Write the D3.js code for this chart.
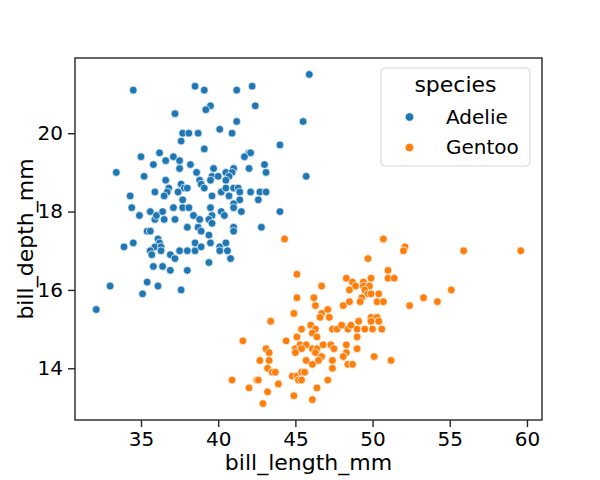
<!DOCTYPE html>
<html>
<head>
<meta charset="utf-8">
<script src="https://cdn.jsdelivr.net/npm/d3@7"></script>
<style>
  body { margin: 0; background: #fff; }
  text { font-family: "DejaVu Sans", sans-serif; fill: #000; }
  .axis path, .axis line { stroke: #262626; stroke-width: 1.4; }
  .axis text { font-size: 20px; fill: #000; }
</style>
</head>
<body>
<div id="chart"></div>
<script>
// penguins: bill length vs bill depth
const species = ["Adelie", "Gentoo"];
const colors = ["#1f77b4", "#ff7f0e"];

const adelieLength = [34.5,38.5,39.1,39.5,39.2,37.2,40.1,37.7,38.1,38.7,37.6,39.1,36.2,35.0,36.6,37.1,37.5,35.8,38.2,37.5,
  39.7,33.4,38.6,40.5,35.2,39.6,40.0,36.6,38.8,45.9,41.2,42.2,42.4,41.2,45.5,40.9,44.0,42.0,42.1,41.7,
  43.0,42.0,43.1,41.0,40.9,40.7,45.7,37.6,37.8,38.0,36.8,36.7,38.9,39.1,40.5,39.5,34.3,35.9,36.5,37.4,
  37.7,39.6,40.2,40.5,34.4,34.9,35.6,35.9,36.0,36.4,36.5,37.1,37.7,38.1,37.2,38.4,38.8,39.5,39.6,39.4,
  39.6,40.2,40.4,38.0,38.7,38.9,39.4,35.4,35.6,34.5,33.9,36.1,36.2,35.9,36.3,35.6,35.7,36.3,36.9,37.2,
  37.5,38.0,38.5,38.5,38.9,39.5,40.1,40.1,40.6,40.5,39.4,35.8,36.4,36.9,38.0,35.4,36.1,35.1,33.0,37.6,
  32.1,41.0,41.3,40.7,41.4,41.4,42.1,42.7,43.1,42.6,41.0,41.0,41.5,44.0,41.0,41.0,42.8,40.8];
const adelieDepth = [21.1,21.2,21.1,20.7,20.6,20.5,20.1,20.0,20.0,20.0,19.8,19.6,19.5,19.4,19.3,19.4,19.3,19.2,19.2,19.1,
  19.1,19.0,19.0,19.0,18.9,18.9,18.9,18.8,18.8,21.5,21.1,21.2,20.7,20.3,20.3,20.0,19.7,19.5,19.5,19.4,
  19.2,19.1,19.0,19.1,19.0,18.9,18.9,18.7,18.6,18.6,18.6,18.5,18.7,18.6,18.8,18.8,18.4,18.5,18.4,18.5,
  18.3,18.4,18.5,18.6,18.1,17.9,18.0,17.8,17.9,18.0,17.8,18.1,18.1,18.1,17.8,17.9,17.8,18.1,17.9,17.8,
  17.7,18.0,17.9,17.6,17.6,17.5,17.4,17.5,17.5,17.2,17.1,17.3,17.2,17.1,17.1,17.0,16.9,17.0,16.9,16.8,
  17.0,17.0,17.0,17.2,17.1,17.2,17.1,17.0,17.0,17.2,16.7,16.6,16.6,16.5,16.5,16.2,16.1,15.9,16.1,16.0,
  15.5,18.6,18.6,18.4,18.5,18.3,18.5,18.5,18.5,18.3,18.2,18.1,18.0,18.0,17.6,17.5,17.6,16.8];

const gentooLength = [44.3,45.1,46.7,48.3,48.5,45.1,46.2,46.3,46.7,46.6,47.1,47.2,48.1,48.5,44.9,43.4,45.4,46.0,46.3,46.1,
  46.4,47.4,47.7,48.4,45.1,44.4,41.6,43.1,43.3,43.3,42.7,45.0,45.3,45.7,45.4,45.0,46.1,46.4,46.3,46.8,
  47.3,47.5,48.3,48.3,48.1,46.7,46.5,45.7,46.1,47.4,47.4,48.4,43.2,43.5,43.7,44.8,45.1,45.4,45.6,45.2,
  45.4,47.1,40.9,42.5,42.6,43.9,42.0,43.2,46.4,44.9,46.1,42.9,50.7,52.1,52.0,55.9,59.6,49.7,51.0,51.0,
  51.4,48.7,48.9,49.4,49.4,49.8,49.9,49.5,49.7,49.9,50.4,49.3,49.2,50.3,50.7,52.4,53.3,54.2,55.1,49.1,
  48.6,48.0,49.0,49.5,50.0,50.6,49.9,50.3,49.9,50.4,49.0,49.0,50.1,51.2,48.7];
const gentooDepth = [17.3,16.4,16.1,16.3,16.0,15.8,15.8,15.6,15.4,15.3,15.5,15.3,15.6,15.7,15.4,15.2,15.0,15.1,15.0,14.9,
  14.8,15.0,15.0,15.0,14.8,14.7,14.7,14.5,14.4,14.2,14.2,14.5,14.6,14.6,14.5,14.4,14.5,14.5,14.4,14.6,
  14.6,14.5,14.6,14.4,14.3,14.3,14.2,14.2,14.1,14.2,14.0,14.1,14.0,13.9,13.9,13.8,13.8,13.9,13.9,13.7,
  13.7,13.7,13.7,13.7,13.7,13.6,13.5,13.4,13.5,13.3,13.2,13.1,17.3,17.1,17.0,17.0,17.0,16.8,16.5,16.3,
  16.3,16.2,16.1,16.2,16.1,16.1,16.3,16.0,15.9,15.9,15.9,15.8,15.7,15.7,15.7,15.6,15.8,15.7,16.0,15.2,
  15.1,15.1,15.0,15.0,15.0,15.0,15.3,15.3,15.2,15.2,14.8,14.5,14.3,14.2,14.1];

const xTicks = [35, 40, 45, 50, 55, 60];
const yTicks = [14, 16, 18, 20];

const width = 600, height = 480,
    margin = ({ top: 58, right: 58, bottom: 60, left: 75 });

const data = [];
adelieLength.forEach((v, i) => data.push({ species: "Adelie", len: v, depth: adelieDepth[i] }));
gentooLength.forEach((v, i) => data.push({ species: "Gentoo", len: v, depth: gentooDepth[i] }));

// 5% padding on each side, like matplotlib autoscale
function padded(ext) {
    const p = (ext[1] - ext[0]) * 0.05;
    return [ext[0] - p, ext[1] + p];
}

const svg = d3.select("#chart")
    .append("svg")
    .attr("width", width)
    .attr("height", height);

const x = d3.scaleLinear()
    .domain(padded(d3.extent(data, d => d.len)))
    .range([margin.left, width - margin.right]);

const y = d3.scaleLinear()
    .domain(padded(d3.extent(data, d => d.depth)))
    .range([height - margin.bottom, margin.top]);

const color = d3.scaleOrdinal().domain(species).range(colors);

svg.append("g")
    .attr("class", "axis")
    .attr("transform", `translate(0,${height - margin.bottom})`)
    .call(d3.axisBottom(x).tickValues(xTicks).tickSize(7).tickPadding(5).tickSizeOuter(0))
    .call(g => g.select(".domain").remove());

svg.append("g")
    .attr("class", "axis")
    .attr("transform", `translate(${margin.left},0)`)
    .call(d3.axisLeft(y).tickValues(yTicks).tickSize(7).tickPadding(5).tickSizeOuter(0))
    .call(g => g.select(".domain").remove());

// points
svg.append("g")
    .selectAll("circle")
    .data(data)
    .join("circle")
    .attr("cx", d => x(d.len))
    .attr("cy", d => y(d.depth))
    .attr("r", 3.9)
    .attr("fill", d => color(d.species))
    .attr("stroke", "#fff")
    .attr("stroke-width", 0.7);

// frame
svg.append("rect")
    .attr("x", margin.left)
    .attr("y", margin.top)
    .attr("width", width - margin.left - margin.right)
    .attr("height", height - margin.top - margin.bottom)
    .attr("fill", "none")
    .attr("stroke", "#262626")
    .attr("stroke-width", 1.4);

svg.append("text")
    .attr("text-anchor", "middle")
    .attr("x", (margin.left + width - margin.right) / 2)
    .attr("y", 470)
    .style("font-size", "22px")
    .text("bill_length_mm");

svg.append("text")
    .attr("text-anchor", "middle")
    .attr("transform", `translate(33,${(margin.top + height - margin.bottom) / 2}) rotate(-90)`)
    .style("font-size", "22px")
    .text("bill_depth_mm");

// legend
const legend = svg.append("g");
legend.append("rect")
    .attr("x", 381).attr("y", 68)
    .attr("width", 149).attr("height", 98)
    .attr("rx", 4)
    .attr("fill", "#fff").attr("fill-opacity", 0.8)
    .attr("stroke", "#d6d6d6");

legend.append("text")
    .attr("x", 455.5).attr("y", 92)
    .attr("text-anchor", "middle")
    .style("font-size", "22px")
    .text("species");

species.forEach((s, i) => {
    legend.append("circle")
        .attr("cx", 409.5).attr("cy", 117 + i * 30.5)
        .attr("r", 4.3)
        .attr("fill", color(s))
        .attr("stroke", "#fff").attr("stroke-width", 0.7);
    legend.append("text")
        .attr("x", 446).attr("y", 123.5 + i * 30.5)
        .style("font-size", "20px")
        .text(s);
});
</script>
</body>
</html>
